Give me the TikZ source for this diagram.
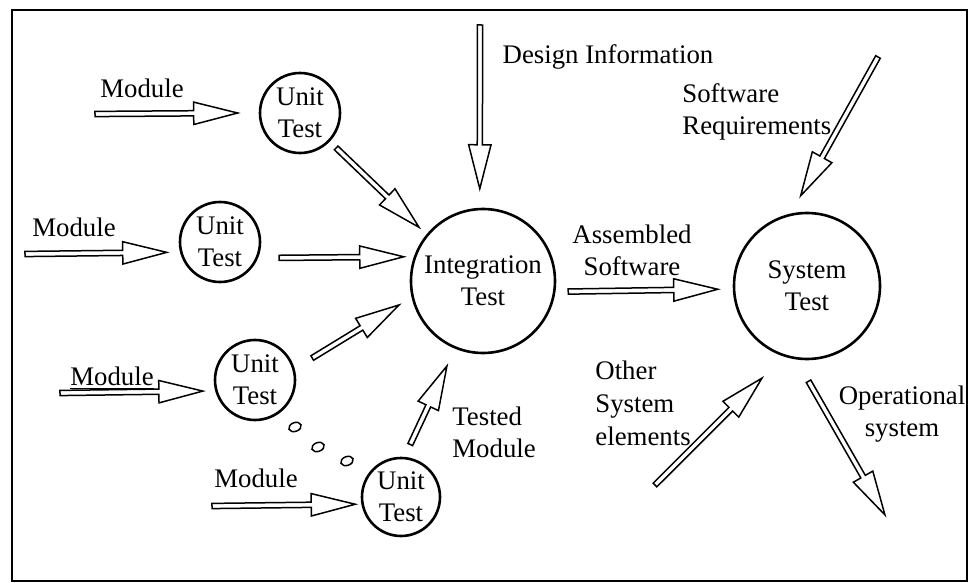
\documentclass[tikz,border=0pt]{standalone}
\usepackage{fontspec}
\setmainfont{Liberation Serif}
\usetikzlibrary{calc}

\tikzset{
  lbl/.style={font=\fontsize{13.4}{16}\selectfont, inner sep=0pt},
  testcirc/.style={lbl, circle, draw, line width=1.3pt, align=center},
  harr/.style={draw, line width=0.75pt, line join=miter, to path={
      let \p1=(\tikztostart), \p2=(\tikztotarget),
          \n1={atan2(\y2-\y1,\x2-\x1)}, \n2={veclen(\x2-\x1,\y2-\y1)} in
      [shift={(\p1)}, rotate=\n1]
      (0pt,-1.3pt) -- ({\n2-22pt},-1.3pt) -- ({\n2-22pt},-5.6pt) -- (\n2,0pt)
      -- ({\n2-22pt},5.6pt) -- ({\n2-22pt},1.3pt) -- (0pt,1.3pt) -- cycle}}
}

\begin{document}
\begin{tikzpicture}[x=0.5pt,y=-0.5pt]
  \useasboundingbox (0,0) rectangle (970,583);
  \draw[line width=0.8pt] (12,10) rectangle (967,581);

  % test bubbles
  \node[testcirc, minimum size=40pt] (ut1) at (300,113) {Unit\\Test};
  \node[testcirc, minimum size=40pt] (ut2) at (220,242) {Unit\\Test};
  \node[testcirc, minimum size=40pt] (ut3) at (255,380) {Unit\\Test};
  \node[testcirc, minimum size=39pt] (ut4) at (401,497) {Unit\\Test};
  \node[testcirc, minimum size=72pt] (integ) at (483,281) {Integration\\Test};
  \node[testcirc, minimum size=73pt] (systest) at (807,286) {System\\Test};

  % labels
  \node[lbl] (mod1) at (142,88) {Module};
  \node[lbl] (mod2) at (74,227) {Module};
  \node[lbl] (mod3) at (112,378) {\underline{Module}};
  \node[lbl] (mod4) at (256,478) {Module};
  \node[lbl] (design) at (608,57) {Design Information};
  \node[lbl, anchor=west, align=left] (softreq) at (682,112) {Software\\Requirements};
  \node[lbl, align=center] (assembled) at (632,250) {Assembled\\Software};
  \node[lbl, anchor=west, align=left] (tested) at (452,432) {Tested\\Module};
  \node[lbl, anchor=west, align=left, font=\fontsize{13.4}{16.5}\selectfont] (other) at (595,403) {Other\\System\\elements};
  \node[lbl, align=center] (oper) at (902,414) {Operational\\system};

  % free ends
  \coordinate (m1s) at (95,114);
  \coordinate (m2s) at (25,254);
  \coordinate (m3s) at (60,393);
  \coordinate (m4s) at (212,506);
  \coordinate (dis) at (480,25);
  \coordinate (srs) at (878,57);
  \coordinate (oss) at (655,485);
  \coordinate (ope) at (885,515);

  \draw[harr] (m1s) to ([shift={(180:10.5pt)}]ut1.180);
  \draw[harr] (m2s) to ([shift={(-169:6.5pt)}]ut2.-169);
  \draw[harr] (m3s) to ([shift={(-168:6pt)}]ut3.-168);
  \draw[harr] (m4s) to ([shift={(-171:3pt)}]ut4.-171);

  \draw[harr] ([shift={(-44:4.5pt)}]ut1.-44) to ([shift={(140:5pt)}]integ.140);
  \draw[harr] ([shift={(-15:10pt)}]ut2.-15) to ([shift={(163:4.8pt)}]integ.163);
  \draw[harr] ([shift={(21:10pt)}]ut3.21) to ([shift={(-164.5:7pt)}]integ.-164.5);
  \draw[harr] ([shift={(80:6.5pt)}]ut4.80) to ([shift={(-113:9.5pt)}]integ.-113);

  \draw[harr] (dis) to ([shift={(92:9.5pt)}]integ.92);
  \draw[harr] ([shift={(-7.5:6.3pt)}]integ.-7.5) to ([shift={(182.6:7.5pt)}]systest.182.6);
  \draw[harr] (srs) to ([shift={(94.5:8pt)}]systest.94.5);
  \draw[harr] (oss) to ([shift={(-116:14pt)}]systest.-116);
  \draw[harr] ([shift={(-89.4:10.5pt)}]systest.-89.4) to (ope);

  % dots between the unit tests
  \draw[line width=0.75pt, rotate around={20:(295,427)}] (295,427) ellipse [x radius=3.2pt, y radius=2.2pt];
  \draw[line width=0.75pt, rotate around={20:(318,447)}] (318,447) ellipse [x radius=3.2pt, y radius=2.2pt];
  \draw[line width=0.75pt, rotate around={20:(347,461)}] (347,461) ellipse [x radius=3.2pt, y radius=2.2pt];
\end{tikzpicture}
\end{document}
